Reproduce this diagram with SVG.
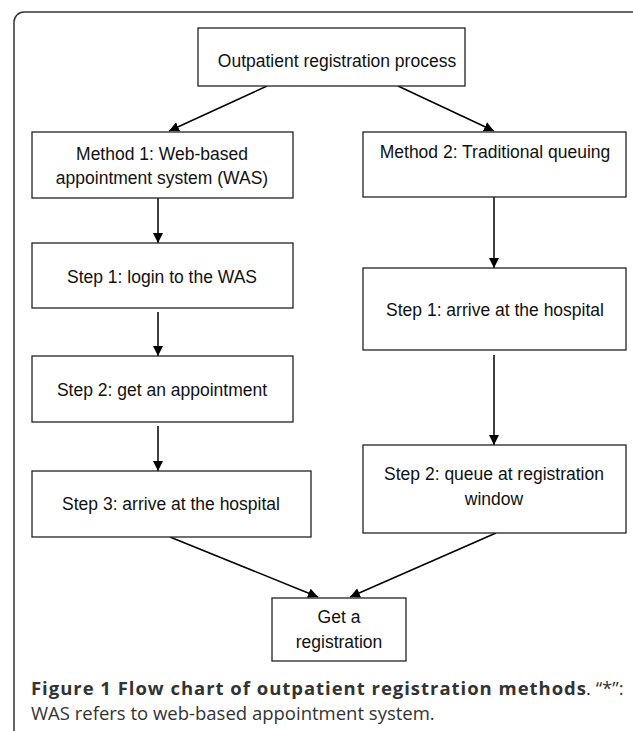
<svg xmlns="http://www.w3.org/2000/svg" width="633" height="731" viewBox="0 0 633 731">
<defs>
<marker id="ah" viewBox="0 0 10 10" refX="10" refY="5" markerWidth="10" markerHeight="10" markerUnits="userSpaceOnUse" orient="auto">
<path d="M0,0 L10,5 L0,10 z" fill="#000"/>
</marker>
<style>
.box{fill:#fff;stroke:#222;stroke-width:1.3}
.t{font-family:"Liberation Sans",Arial,sans-serif;font-size:17.5px;fill:#111;text-anchor:middle}
.c{stroke:#000;stroke-width:1.5;fill:none;marker-end:url(#ah)}
.cap{font-family:"Open Sans","Noto Sans",sans-serif;font-size:18.5px;fill:#333}
</style>
</defs>
<rect x="0" y="0" width="633" height="731" fill="#fff"/>
<rect id="frame" x="14" y="12" width="660" height="760" rx="10" fill="none" stroke="#333" stroke-width="1.5"/>

<g id="connectors">
<line class="c" x1="267" y1="86" x2="169" y2="131"/>
<line class="c" x1="398" y1="86" x2="494" y2="131"/>
<line class="c" x1="158" y1="198" x2="158" y2="243"/>
<line class="c" x1="158" y1="312" x2="158" y2="356"/>
<line class="c" x1="158" y1="426" x2="158" y2="471"/>
<line class="c" x1="494" y1="197" x2="494" y2="268"/>
<line class="c" x1="494" y1="355" x2="494" y2="445"/>
<line class="c" x1="170" y1="537" x2="318" y2="597"/>
<line class="c" x1="496" y1="533" x2="350" y2="597"/>
</g>

<g id="n_top">
<rect class="box" x="198" y="28" width="267" height="58"/>
<text class="t" x="337" y="67">Outpatient registration process</text>
</g>
<g id="n_m1">
<rect class="box" x="32" y="132" width="261" height="66"/>
<text class="t" x="162" y="160">Method 1: Web-based</text>
<text class="t" x="162" y="184">appointment system (WAS)</text>
</g>
<g id="n_m2">
<rect class="box" x="363" y="132" width="263" height="65"/>
<text class="t" x="495" y="158">Method 2: Traditional queuing</text>
</g>
<g id="n_l1">
<rect class="box" x="32" y="243" width="261" height="65"/>
<text class="t" x="162" y="283">Step 1: login to the WAS</text>
</g>
<g id="n_l2">
<rect class="box" x="32" y="356" width="261" height="66"/>
<text class="t" x="162" y="396">Step 2: get an appointment</text>
</g>
<g id="n_l3">
<rect class="box" x="32" y="471" width="279" height="66"/>
<text class="t" x="171" y="510">Step 3: arrive at the hospital</text>
</g>
<g id="n_r1">
<rect class="box" x="363" y="268" width="263" height="82"/>
<text class="t" x="495" y="316">Step 1: arrive at the hospital</text>
</g>
<g id="n_r2">
<rect class="box" x="363" y="445" width="263" height="88"/>
<text class="t" x="494" y="480">Step 2: queue at registration</text>
<text class="t" x="494" y="505">window</text>
</g>
<g id="n_get">
<rect class="box" x="272" y="598" width="134" height="63"/>
<text class="t" x="339" y="623">Get a</text>
<text class="t" x="339" y="648">registration</text>
</g>

<g id="caption">
<text class="cap" x="31" y="695" font-weight="bold" fill="#222" textLength="555" lengthAdjust="spacing">Figure 1 Flow chart of outpatient registration methods</text>
<text class="cap" x="586" y="695">. “*”:</text>
<text class="cap" x="31" y="720">WAS refers to web-based appointment system.</text>
</g>
</svg>
